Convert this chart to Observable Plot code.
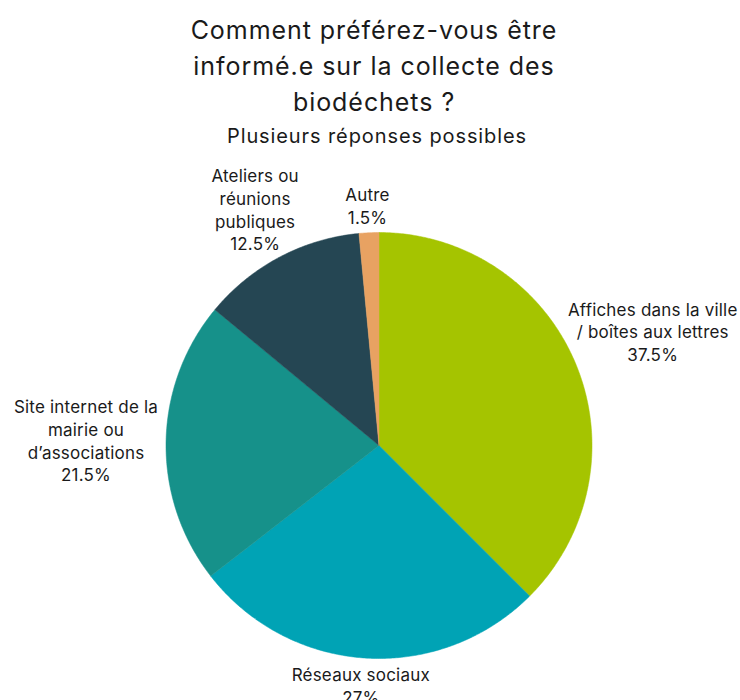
<!DOCTYPE html>
<html>
<head>
<meta charset="utf-8">
<script src="https://cdn.jsdelivr.net/npm/d3@7"></script>
<script src="https://cdn.jsdelivr.net/npm/@observablehq/plot@0.6"></script>
<style>
  html, body { margin: 0; padding: 0; background: #fff; }
  body { width: 740px; overflow: hidden; font-family: Inter, sans-serif; color: #1a1a1a; }
  #title { text-align: center; font-size: 25px; letter-spacing: 0.95px; line-height: 36px; padding-top: 12px; padding-left: 8px; font-weight: 400; }
  #subtitle { text-align: center; font-size: 20px; letter-spacing: 0.9px; line-height: 30px; height: 30px; padding-left: 14px; padding-top: 1px; }
  #chart svg { display: block; overflow: visible; }
</style>
</head>
<body>
<div id="title">Comment préférez-vous être<br>informé.e sur la collecte des<br>biodéchets ?</div>
<div id="subtitle">Plusieurs réponses possibles</div>
<div id="chart"></div>
<script>
// ---- data ----
const categories = [
  "Affiches dans la ville / boîtes aux lettres",
  "Réseaux sociaux",
  "Site internet de la mairie ou d’associations",
  "Ateliers ou réunions publiques",
  "Autre"
];
const labelLines = [
  ["Affiches dans la ville", "/ boîtes aux lettres"],
  ["Réseaux sociaux"],
  ["Site internet de la", "mairie ou", "d’associations"],
  ["Ateliers ou", "réunions", "publiques"],
  ["Autre"]
];
const values = [37.5, 27, 21.5, 12.5, 1.5];
const valueLabels = ["37.5%", "27%", "21.5%", "12.5%", "1.5%"];
const colors = ["#a5c400", "#00a3b5", "#16918a", "#254653", "#e8a262"];

// ---- layout ----
const W = 740, H = 560;
const R = 213, CX = 378.5, CY = 294;
const fontSize = 17, lineH = 1.33, letterSpacing = 0.2;
const fontFamily = "Inter, sans-serif";

const total = d3.sum(values);
let acc = 0;
const slices = values.map((v, i) => {
  const a0 = acc / total * 2 * Math.PI; acc += v;
  const a1 = acc / total * 2 * Math.PI;
  return {cat: categories[i], a0, a1, mid: (a0 + a1) / 2, i};
});

const pieOutline = slices.flatMap(s => {
  const n = Math.max(2, Math.ceil((s.a1 - s.a0) / (Math.PI / 360)));
  const pts = [{cat: s.cat, X: 0, Y: 0}];
  for (let k = 0; k <= n; k++) {
    const a = s.a0 + (s.a1 - s.a0) * k / n;
    pts.push({cat: s.cat, X: Math.sin(a), Y: Math.cos(a)});
  }
  pts.push({cat: s.cat, X: 0, Y: 0});
  return pts;
});

const ctx = document.createElement("canvas").getContext("2d");
ctx.font = `${fontSize}px ${fontFamily}`;
try { ctx.letterSpacing = letterSpacing + "px"; } catch (e) {}
const labels = slices.map(s => {
  const lines = [...labelLines[s.i], valueLabels[s.i]];
  const w = d3.max(lines, l => ctx.measureText(l).width);
  const h = lines.length * fontSize * lineH;
  const sa = Math.sin(s.mid), ca = Math.cos(s.mid);
  // anchor on the rim, then push the text block outward, keeping it inside the frame
  let cx = CX + sa * R + sa * (w / 2 + 8);
  cx = Math.max(w / 2 + 4, Math.min(W - w / 2 - 3, cx));
  const py = ca * R + Math.sign(ca) * (h / 2 + 5 * Math.abs(ca) - 3 * Math.abs(sa)) * Math.min(1, 3 * Math.abs(ca));
  return {text: lines.join("\n"), X: (cx - CX) / R, Y: py / R};
});

const chart = Plot.plot({
  width: W,
  height: H,
  margin: 0,
  style: {fontFamily, overflow: "visible", background: "transparent", letterSpacing: letterSpacing + "px"},
  x: {domain: [-1, 1], range: [CX - R, CX + R], axis: null},
  y: {domain: [-1, 1], range: [CY + R, CY - R], axis: null},
  color: {domain: categories, range: colors},
  marks: [
    Plot.line(pieOutline, {x: "X", y: "Y", z: "cat", fill: "cat", stroke: "cat", strokeWidth: 0.5, curve: "linear"}),
    Plot.text(labels, {x: "X", y: "Y", text: "text", textAnchor: "middle", lineAnchor: "middle",
      fontSize, lineHeight: lineH, fill: "#1a1a1a"})
  ]
});
document.getElementById("chart").appendChild(chart);
</script>
</body>
</html>
